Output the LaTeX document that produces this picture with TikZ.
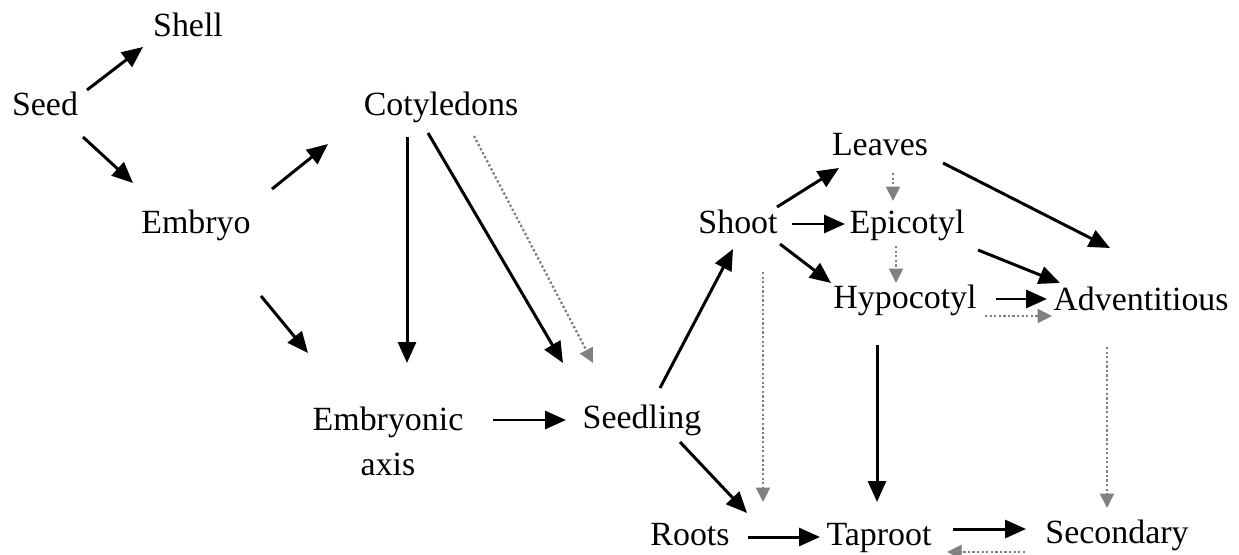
\documentclass[tikz,border=0pt]{standalone}
\usepackage{fontspec}
\setmainfont{Liberation Serif}
\usetikzlibrary{arrows.meta}
\begin{document}
\begin{tikzpicture}[x=0.02cm, y=-0.02cm, font=\fontsize{19.3}{25.5}\selectfont]
  \tikzset{part/.style={inner sep=0pt, anchor=base},
    develop/.style={line width=1.7pt, -{Triangle[length=0.42cm, width=0.36cm]}},
    faint/.style={gray, line width=1.3pt, dash pattern=on 1.3pt off 1.3pt,
      -{Triangle[length=0.29cm, width=0.28cm]}}}
  \useasboundingbox (0,0) rectangle (1239,554);

  % Parts of the plant
  \node[part] (seed) at (45,115) {Seed};
  \node[part] (shell) at (188,37) {Shell};
  \node[part] (embryo) at (196,233) {Embryo};
  \node[part] (cot) at (441,115) {Cotyledons};
  \node[part, align=center] (axis) at (388,475) {Embryonic\\axis};
  \node[part] (seedling) at (642,428) {Seedling};
  \node[part] (shoot) at (738,233) {Shoot};
  \node[part] (leaves) at (880,155) {Leaves};
  \node[part] (epi) at (907,233) {Epicotyl};
  \node[part] (hypo) at (905,308) {Hypocotyl};
  \node[part] (adv) at (1141,310) {Adventitious};
  \node[part] (roots) at (690,545) {Roots};
  \node[part] (tap) at (879,545) {Taproot};
  \node[part] (sec) at (1117,543) {Secondary};

  % Seed and embryo
  \draw[develop] ([shift={(42,-25)}]seed.base) -- ([shift={(-45,10)}]shell.base);
  \draw[develop] ([shift={(38,22)}]seed.base) -- ([shift={(-63,-50)}]embryo.base);
  \draw[develop] ([shift={(76,-44)}]embryo.base) -- ([shift={(-113,29)}]cot.base);
  \draw[develop] ([shift={(65,63)}]embryo.base) -- ([shift={(-80,-122)}]axis.base);
  \draw[develop] ([shift={(-34,22)}]cot.base) -- ([shift={(19,-112)}]axis.base);
  \draw[develop] ([shift={(-13,18)}]cot.base) -- ([shift={(-79,-65)}]seedling.base);
  \draw[faint] ([shift={(33,21)}]cot.base) -- ([shift={(-49,-65)}]seedling.base);
  \draw[develop] ([shift={(105,-55)}]axis.base) -- ([shift={(-76,-8)}]seedling.base);

  % Seedling
  \draw[develop] ([shift={(18,-40)}]seedling.base) -- ([shift={(-5,16)}]shoot.base);
  \draw[develop] ([shift={(38,14)}]seedling.base) -- ([shift={(57,-32)}]roots.base);
  \draw[faint] ([shift={(25,39)}]shoot.base) -- ([shift={(73,-43)}]roots.base);

  % Shoot
  \draw[develop] ([shift={(39,-26)}]shoot.base) -- ([shift={(-41,13)}]leaves.base);
  \draw[develop] ([shift={(54,-9)}]shoot.base) -- ([shift={(-62,-9)}]epi.base);
  \draw[develop] ([shift={(42,11)}]shoot.base) -- ([shift={(-74,-25)}]hypo.base);
  \draw[faint] ([shift={(13,18)}]leaves.base) -- ([shift={(-14,-32)}]epi.base);
  \draw[faint] ([shift={(-11,13)}]epi.base) -- ([shift={(-9,-25)}]hypo.base);
  \draw[develop] ([shift={(63,8)}]leaves.base) -- ([shift={(-31,-62)}]adv.base);
  \draw[develop] ([shift={(71,17)}]epi.base) -- ([shift={(-81,-27)}]adv.base);
  \draw[develop] ([shift={(91,-9)}]hypo.base) -- ([shift={(-94,-11)}]adv.base);
  \draw[faint] ([shift={(80,8)}]hypo.base) -- ([shift={(-89,6)}]adv.base);

  % Roots
  \draw[develop] ([shift={(-28,37)}]hypo.base) -- ([shift={(-2,-43)}]tap.base);
  \draw[faint] ([shift={(-34,37)}]adv.base) -- ([shift={(-10,-35)}]sec.base);
  \draw[develop] ([shift={(58,-8)}]roots.base) -- ([shift={(-59,-8)}]tap.base);
  \draw[develop] ([shift={(74,-16)}]tap.base) -- ([shift={(-91,-14)}]sec.base);
  \draw[faint] ([shift={(-92,9)}]sec.base) -- ([shift={(68,7)}]tap.base);
\end{tikzpicture}
\end{document}
